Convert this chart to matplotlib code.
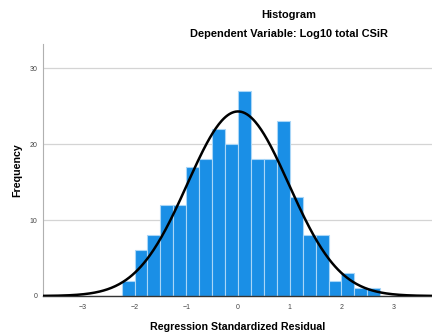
import numpy as np
import matplotlib.pyplot as plt

# Histogram bins (regression standardized residual) and counts
bin_edges = [-2.25, -2.0, -1.75, -1.5, -1.25, -1.0, -0.75, -0.5, -0.25, 0.0,
             0.25, 0.5, 0.75, 1.0, 1.25, 1.5, 1.75, 2.0, 2.25, 2.5, 2.75]
counts = [2, 6, 8, 12, 12, 17, 18, 22, 20, 27,
          18, 18, 23, 13, 8, 8, 2, 3, 1, 1]

# Normal curve parameters
mean = 0.0
std_dev = 0.98
n_obs = 239

xticks = [-3, -2, -1, 0, 1, 2, 3]
yticks = [0, 10, 20, 30]

plt.rcParams['font.family'] = ['Liberation Sans', 'DejaVu Sans']

fig = plt.figure(figsize=(4.32, 3.34), dpi=100)
ax = fig.add_axes([0.0995, 0.1138, 0.9005, 0.7542])

edges = np.array(bin_edges)
widths = np.diff(edges)
ax.bar(edges[:-1], counts, width=widths, align='edge',
       color='#1a8fe6', edgecolor='#a9d6f7', linewidth=0.8, zorder=2)

# normal curve scaled to counts
xs = np.linspace(-3.8, 3.8, 400)
bw = widths[0]
ys = n_obs * bw * np.exp(-0.5 * ((xs - mean) / std_dev) ** 2) / (std_dev * np.sqrt(2 * np.pi))
ax.plot(xs, ys, color='black', linewidth=1.8, zorder=3)

ax.set_xlim(-3.77, 3.75)
ax.set_ylim(0, 33.2)
ax.set_xticks(xticks)
ax.set_yticks(yticks)
ax.tick_params(length=0, labelsize=5, colors='#444444')
ax.tick_params(axis='x', pad=6)
ax.tick_params(axis='y', pad=4)
ax.yaxis.grid(True, color='#d4d4d4', linewidth=0.9, zorder=0)
ax.set_axisbelow(True)

for side in ['top', 'right']:
    ax.spines[side].set_visible(False)
ax.spines['left'].set_color('#b0b0b0')
ax.spines['left'].set_linewidth(0.8)
ax.spines['bottom'].set_color('#333333')
ax.spines['bottom'].set_linewidth(1.0)

ax.set_xlabel('Regression Standardized Residual', fontsize=7.7, fontweight='bold', labelpad=8)
ax.set_ylabel('Frequency', fontsize=7.7, fontweight='bold', labelpad=5)

fig.text(0.669, 0.956, 'Histogram', ha='center', va='center', fontsize=7.9, fontweight='bold')
fig.text(0.669, 0.897, 'Dependent Variable: Log10 total CSiR', ha='center', va='center',
         fontsize=7.9, fontweight='bold')

fig.savefig('out.png', dpi=100)
